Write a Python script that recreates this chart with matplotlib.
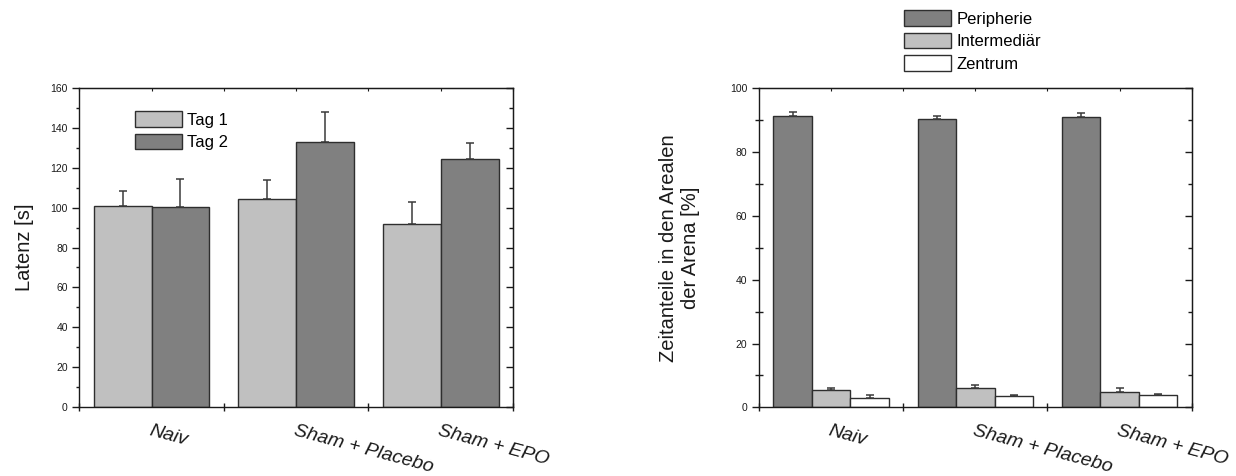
import numpy as np
import matplotlib.pyplot as plt
from matplotlib.patches import Patch
from matplotlib.ticker import MultipleLocator

plt.rcParams['font.family'] = ['Liberation Sans', 'DejaVu Sans']

groups = ["Naiv", "Sham + Placebo", "Sham + EPO"]

# Latenz (Tag 1 / Tag 2), Mittelwert und oberer Fehler
tag1 = [100.7, 104.4, 92.0]
tag1_err = [7.5, 9.7, 10.7]
tag2 = [100.2, 132.8, 124.6]
tag2_err = [14.4, 15.0, 8.0]

# Zeitanteile in den Arealen [%]
peripherie = [91.4, 90.3, 91.1]
peripherie_err = [1.3, 1.1, 1.3]
intermediaer = [5.4, 6.0, 4.9]
intermediaer_err = [0.8, 0.9, 1.2]
zentrum = [2.9, 3.4, 3.7]
zentrum_err = [0.8, 0.6, 0.4]

light = "#c0c0c0"
dark = "#808080"
edge = "#2e2e2e"
ink = "#1a1a1a"

fig = plt.figure(figsize=(12.36, 4.76), dpi=100)
ax1 = fig.add_axes([79.3 / 1236, 69 / 476, 433.7 / 1236, 319 / 476])
ax2 = fig.add_axes([759 / 1236, 68.7 / 476, 432.7 / 1236, 319 / 476])

x = np.arange(len(groups)) + 0.5


def bars(ax, pos, vals, errs, color, width):
    ax.bar(pos, vals, width=width, color=color, edgecolor=edge, linewidth=1.0, zorder=2)
    ax.errorbar(pos, vals, yerr=[np.zeros(len(errs)), errs], fmt="none",
                ecolor="#3a3a3a", elinewidth=1.1, capsize=3.2, capthick=1.1, zorder=3)


def style_axes(ax, ymax, ystep, minor_dir, minor_len):
    ax.set_xlim(0, 3)
    ax.set_ylim(0, ymax)
    for s in ax.spines.values():
        s.set_color(ink)
        s.set_linewidth(1.0)
    ax.yaxis.set_major_locator(MultipleLocator(ystep))
    ax.yaxis.set_minor_locator(MultipleLocator(ystep / 2))
    ax.tick_params(axis="y", which="major", direction="out", length=4.8, width=1.0,
                   color=ink, labelsize=7.5, labelcolor=ink, pad=3.5)
    ax.tick_params(axis="y", which="minor", direction=minor_dir, length=minor_len,
                   width=1.0, color=ink)
    ax.set_xticks([0, 1, 2, 3])
    ax.set_xticklabels([])
    ax.tick_params(axis="x", which="major", direction="inout", length=5.8, width=1.0, color=ink)
    ax.set_xticks(x, minor=True)
    ax.set_xticklabels(groups, minor=True, rotation=-15, ha="left", va="top",
                       rotation_mode="anchor", fontsize=14, style="italic", color=ink)
    ax.tick_params(axis="x", which="minor", length=0, pad=11)

    top = ax.secondary_xaxis("top")
    top.set_xticks(np.arange(0, 3.01, 0.5))
    top.set_xticklabels([])
    top.tick_params(direction="in", length=1.8, width=0.8, color=ink)
    top.spines["top"].set_color(ink)

    right = ax.secondary_yaxis("right")
    right.yaxis.set_major_locator(MultipleLocator(ystep))
    right.yaxis.set_minor_locator(MultipleLocator(ystep / 2))
    right.set_yticklabels([])
    right.tick_params(which="major", direction="in", length=5.0, width=1.0, color=ink)
    right.tick_params(which="minor", direction="in", length=2.9, width=1.0, color=ink)
    right.yaxis.set_minor_formatter(plt.NullFormatter())
    right.spines["right"].set_color(ink)


legend_kw = dict(loc="upper left", frameon=False, fontsize=12, handlelength=2.82,
                 handleheight=1.08, handletextpad=0.3, labelspacing=0.36,
                 borderpad=0, borderaxespad=0)

# linkes Diagramm: Latenz
w1 = 0.4
bars(ax1, x - w1 / 2, tag1, tag1_err, light, w1)
bars(ax1, x + w1 / 2, tag2, tag2_err, dark, w1)
style_axes(ax1, 160, 20, "out", 2.2)
ax1.set_ylabel("Latenz [s]", fontsize=14.5, color=ink, labelpad=12)

handles1 = [Patch(facecolor=light, edgecolor=edge, linewidth=1.0, label="Tag 1"),
            Patch(facecolor=dark, edgecolor=edge, linewidth=1.0, label="Tag 2")]
fig.legend(handles=handles1, bbox_to_anchor=(135 / 1236, 1 - 111 / 476), **legend_kw)

# rechtes Diagramm: Zeitanteile
w2 = 0.8 / 3
bars(ax2, x - w2, peripherie, peripherie_err, dark, w2)
bars(ax2, x, intermediaer, intermediaer_err, light, w2)
bars(ax2, x + w2, zentrum, zentrum_err, "white", w2)
style_axes(ax2, 100, 20, "inout", 5.6)
ax2.set_ylabel("Zeitanteile in den Arealen\nder Arena [%]", fontsize=14.5, color=ink,
               labelpad=22, multialignment="center")

handles2 = [Patch(facecolor=dark, edgecolor=edge, linewidth=1.0, label="Peripherie"),
            Patch(facecolor=light, edgecolor=edge, linewidth=1.0, label="Intermediär"),
            Patch(facecolor="white", edgecolor=edge, linewidth=1.0, label="Zentrum")]
fig.legend(handles=handles2, bbox_to_anchor=(904.5 / 1236, 1 - 10 / 476), **legend_kw)

fig.savefig("out.png", dpi=100)
